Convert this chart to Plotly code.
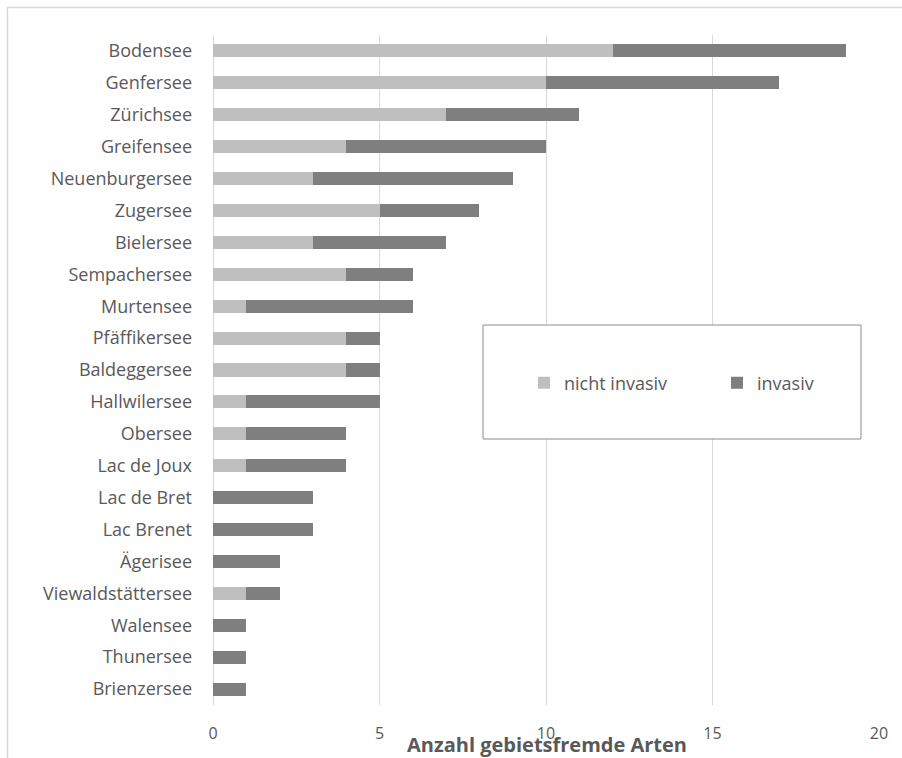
import plotly.graph_objects as go

lakes = ["Bodensee", "Genfersee", "Zürichsee", "Greifensee", "Neuenburgersee", "Zugersee",
         "Bielersee", "Sempachersee", "Murtensee", "Pfäffikersee", "Baldeggersee", "Hallwilersee",
         "Obersee", "Lac de Joux", "Lac de Bret", "Lac Brenet", "Ägerisee", "Viewaldstättersee",
         "Walensee", "Thunersee", "Brienzersee"]
nicht_invasiv = [12, 10, 7, 4, 3, 5, 3, 4, 1, 4, 4, 1, 1, 1, 0, 0, 0, 1, 0, 0, 0]
invasiv = [7, 7, 4, 6, 6, 3, 4, 2, 5, 1, 1, 4, 3, 3, 3, 3, 2, 1, 1, 1, 1]
x_ticks = [0, 5, 10, 15, 20]

FONT = "Open Sans"
TXT = "#595959"

fig = go.Figure()
fig.add_trace(go.Bar(y=lakes, x=nicht_invasiv, orientation="h", name="nicht invasiv",
                     marker=dict(color="#bfbfbf", line=dict(width=0))))
fig.add_trace(go.Bar(y=lakes, x=invasiv, orientation="h", name="invasiv",
                     marker=dict(color="#7f7f7f", line=dict(width=0))))

W, H = 902, 758
L, R, T, B = 213, 879, 35, 705
pw, ph = R - L, B - T

def px(x):
    return (x - L) / pw

def py(y):
    return (B - y) / ph

fig.update_layout(
    width=W, height=H,
    barmode="stack", bargap=0.59,
    margin=dict(l=L, r=W - R, t=T, b=H - B, pad=0, autoexpand=False),
    paper_bgcolor="white", plot_bgcolor="white",
    font=dict(family=FONT, color=TXT, size=15),
    showlegend=True,
    legend=dict(orientation="h", x=px(524), y=py(383), xanchor="left", yanchor="middle",
                bgcolor="rgba(0,0,0,0)", borderwidth=0,
                font=dict(family=FONT, size=18, color=TXT),
                itemwidth=30, entrywidth=148, traceorder="normal"),
    xaxis=dict(range=[0, 20], tickvals=x_ticks, showgrid=True, gridcolor="#d9d9d9", gridwidth=1,
               zeroline=True, zerolinecolor="#d9d9d9", zerolinewidth=1, showline=False,
               ticks="", ticklabelstandoff=17, tickfont=dict(size=16, color=TXT), automargin=False),
    yaxis=dict(categoryorder="array", categoryarray=lakes, autorange="reversed",
               showgrid=False, zeroline=False, showline=False, ticks="",
               ticklabelstandoff=20, tickfont=dict(size=18, color=TXT), automargin=False),
    shapes=[
        dict(type="rect", xref="paper", yref="paper", x0=px(483), x1=px(861), y0=py(439), y1=py(325),
             fillcolor="white", line=dict(color="#8c8c8c", width=1), layer="above"),
        dict(type="line", xref="paper", yref="paper", x0=px(7), x1=px(902), y0=py(7.5), y1=py(7.5),
             line=dict(color="#d9d9d9", width=1.5)),
        dict(type="line", xref="paper", yref="paper", x0=px(7.5), x1=px(7.5), y0=py(7), y1=py(758),
             line=dict(color="#d9d9d9", width=1.5)),
    ],
    annotations=[
        dict(text="<b>Anzahl gebietsfremde Arten</b>", xref="paper", yref="paper",
             x=px(547), y=py(744), xanchor="center", yanchor="middle", showarrow=False,
             font=dict(family=FONT, size=20, color=TXT)),
    ],
)

fig.write_html("out.html")
